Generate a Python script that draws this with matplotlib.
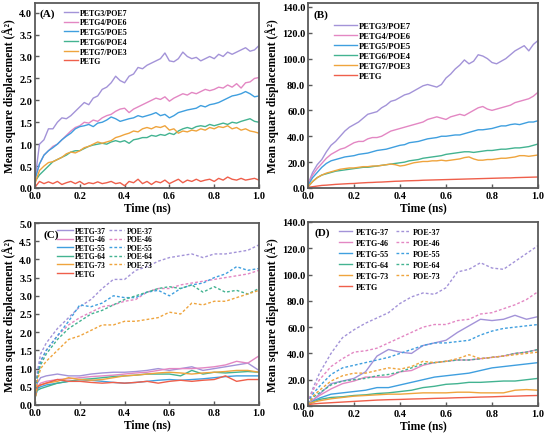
import numpy as np
import matplotlib
matplotlib.use("Agg")
import matplotlib.pyplot as plt
from matplotlib.ticker import MultipleLocator, FormatStrFormatter

plt.rcParams['font.family'] = ['Liberation Serif', 'DejaVu Serif']
plt.rcParams['font.weight'] = 'bold'

# ---- time grids ----
time_ab = [round(0.02 * i, 2) for i in range(51)]
time_cd = [0, 0.01, 0.025, 0.05, 0.1, 0.15, 0.2, 0.25, 0.3, 0.35, 0.4, 0.45,
           0.5, 0.55, 0.6, 0.65, 0.7, 0.75, 0.8, 0.85, 0.9, 0.95, 1.0]

# ---- panel A (PETG/POE blends, small scale) ----
labels_ab = ['PETG3/POE7', 'PETG4/POE6', 'PETG5/POE5', 'PETG6/POE4', 'PETG7/POE3', 'PETG']
a_37 = [0.2, 1.0, 1.1, 1.35, 1.35, 1.5, 1.6, 1.58, 1.65, 1.75, 1.85, 1.95, 1.9, 2.05, 2.1,
        2.25, 2.3, 2.4, 2.55, 2.45, 2.4, 2.55, 2.6, 2.75, 2.72, 2.8, 2.85, 2.9, 2.95, 3.08,
        2.9, 2.88, 2.95, 3.1, 3.0, 2.95, 2.98, 2.9, 2.95, 3.0, 2.95, 3.05, 3.0, 3.1, 3.05,
        3.1, 3.15, 3.2, 3.12, 3.15, 3.25]
a_46 = [0.2, 0.55, 0.75, 0.85, 0.95, 1.0, 1.1, 1.2, 1.3, 1.38, 1.42, 1.5, 1.48, 1.55, 1.52,
        1.6, 1.65, 1.68, 1.75, 1.8, 1.82, 1.72, 1.8, 1.85, 1.9, 1.95, 2.0, 2.05, 2.02, 2.08,
        1.98, 2.05, 2.1, 2.15, 2.12, 2.18, 2.15, 2.2, 2.25, 2.22, 2.25, 2.3, 2.28, 2.35, 2.3,
        2.38, 2.28, 2.4, 2.42, 2.5, 2.52]
a_55 = [0.2, 0.55, 0.75, 0.85, 0.92, 1.0, 1.1, 1.18, 1.25, 1.35, 1.4, 1.42, 1.45, 1.4, 1.48,
        1.5, 1.55, 1.62, 1.58, 1.52, 1.55, 1.58, 1.6, 1.65, 1.62, 1.65, 1.68, 1.72, 1.65, 1.68,
        1.6, 1.65, 1.72, 1.75, 1.78, 1.8, 1.82, 1.88, 1.85, 1.9, 1.92, 1.95, 2.0, 2.05, 2.1,
        2.12, 2.15, 2.2, 2.15, 2.08, 2.1]
a_64 = [0.15, 0.3, 0.4, 0.5, 0.6, 0.65, 0.7, 0.75, 0.82, 0.85, 0.85, 0.9, 0.95, 0.98, 1.0,
        1.02, 1.0, 1.05, 1.08, 1.05, 1.08, 1.02, 1.1, 1.12, 1.15, 1.15, 1.2, 1.18, 1.22, 1.2,
        1.25, 1.22, 1.3, 1.35, 1.38, 1.35, 1.4, 1.42, 1.4, 1.45, 1.42, 1.45, 1.48, 1.45, 1.5,
        1.48, 1.52, 1.55, 1.58, 1.52, 1.5]
a_73 = [0.1, 0.4, 0.5, 0.58, 0.6, 0.65, 0.7, 0.78, 0.82, 0.8, 0.85, 0.92, 0.95, 1.0, 1.05,
        1.02, 1.05, 1.08, 1.15, 1.18, 1.22, 1.25, 1.3, 1.28, 1.35, 1.38, 1.35, 1.4, 1.38, 1.42,
        1.32, 1.35, 1.25, 1.3, 1.28, 1.32, 1.3, 1.35, 1.32, 1.38, 1.35, 1.4, 1.38, 1.42, 1.35,
        1.38, 1.32, 1.35, 1.3, 1.28, 1.25]
a_petg = [0.02, 0.15, 0.1, 0.14, 0.1, 0.15, 0.08, 0.12, 0.15, 0.1, 0.15, 0.08, 0.12, 0.1, 0.14,
          0.1, 0.12, 0.15, 0.1, 0.12, 0.05, 0.15, 0.12, 0.2, 0.1, 0.15, 0.08, 0.15, 0.12, 0.18,
          0.1, 0.15, 0.2, 0.12, 0.18, 0.15, 0.2, 0.15, 0.18, 0.2, 0.15, 0.22, 0.18, 0.25, 0.2,
          0.18, 0.22, 0.18, 0.2, 0.22, 0.18]

# ---- panel B (PETG/POE blends, large scale) ----
b_37 = [3, 12, 18, 22, 28, 33, 36, 40, 44, 47, 49, 51, 54, 57, 58, 59, 62, 64, 67, 68, 70,
        72, 73, 75, 77, 79, 80, 79, 78, 80, 85, 88, 92, 95, 99, 96, 98, 103, 102, 100, 97,
        96, 98, 100, 103, 106, 108, 110, 106, 111, 114]
b_46 = [3, 10, 15, 19, 23, 26, 28, 30, 31, 33, 35, 36, 36, 38, 39, 39, 40, 42, 44, 45, 46,
        47, 48, 49, 50, 51, 53, 54, 55, 54, 53, 55, 56, 57, 56, 58, 60, 62, 63, 61, 60,
        61, 62, 63, 64, 66, 67, 68, 69, 71, 74]
b_55 = [2, 8, 12, 16, 19, 21, 22, 23, 24, 24.5, 25, 26, 26.5, 27, 28, 29, 29.5, 30, 31, 32,
        33, 33.5, 35, 35.5, 36, 37, 38, 38.5, 39, 40, 40, 40.5, 41, 41, 42, 43, 44, 45, 45,
        45.5, 46, 47, 48, 48, 49, 49.5, 49, 50, 51, 51, 52]
b_64 = [1, 5, 8, 10, 11, 12, 13, 13.5, 14, 14.5, 15, 15.5, 16, 16, 16.5, 17, 17.5, 18, 18.5,
        19, 19.5, 20, 21, 21.5, 22, 23, 23.5, 24, 24.5, 25, 26, 26.5, 27, 27.5, 28, 28, 27.5,
        28, 28.5, 29, 29, 29.5, 30, 30, 30.5, 31, 31, 31.5, 32, 33, 34]
b_73 = [1, 5, 8, 10, 11.5, 12.5, 13.5, 14.5, 15, 15.5, 15.5, 16, 16.5, 16.5, 17, 17, 17.5,
        18, 18.5, 18, 17, 17.5, 18.5, 19.5, 20, 20.5, 20.5, 21, 21, 21.5, 21, 21.5, 22, 22.5,
        23.5, 24, 22.5, 21.5, 21.5, 22, 22, 22.5, 23, 23, 23.5, 24, 25, 25, 24.5, 25, 25.5]
b_petg = [0.5, 1, 1.5, 2, 2.2, 2.5, 2.8, 3, 3.2, 3.4, 3.5, 3.8, 4, 4.2, 4.3, 4.5, 4.6, 4.8,
          5, 5.2, 5.3, 5.5, 5.6, 5.7, 5.8, 6, 6.1, 6.2, 6.3, 6.4, 6.5, 6.6, 6.7, 6.8, 6.9, 7,
          7.1, 7.2, 7.3, 7.4, 7.5, 7.6, 7.7, 7.8, 7.8, 8, 8.1, 8.2, 8.3, 8.4, 8.5]

# ---- panel C (components, small scale) ----
labels_petg = ['PETG-37', 'PETG-46', 'PETG-55', 'PETG-64', 'PETG-73', 'PETG']
labels_poe = ['POE-37', 'POE-46', 'POE-55', 'POE-64', 'POE-73']
c_poe37 = [0.2, 0.9, 1.4, 1.7, 2.1, 2.4, 2.7, 2.9, 3.2, 3.45, 3.45, 3.7, 3.8, 3.95, 4.05, 4.1,
           4.15, 4.05, 4.15, 4.15, 4.2, 4.25, 4.4]
c_poe46 = [0.2, 0.8, 1.2, 1.5, 1.9, 2.2, 2.4, 2.55, 2.7, 2.75, 2.85, 2.9, 3.1, 3.2, 3.2, 3.3,
           3.35, 3.4, 3.45, 3.5, 3.55, 3.6, 3.7]
c_poe55 = [0.2, 0.8, 1.2, 1.5, 1.9, 2.3, 2.75, 2.7, 2.8, 3.0, 2.95, 2.95, 3.1, 3.15, 3.0, 3.2,
           3.3, 3.35, 3.5, 3.6, 3.8, 3.7, 3.75]
c_poe64 = [0.2, 0.75, 1.1, 1.4, 1.8, 2.1, 2.3, 2.5, 2.6, 2.75, 2.9, 3.0, 3.1, 3.2, 3.25, 3.2,
           3.3, 3.1, 3.25, 3.1, 3.15, 3.05, 3.2]
c_poe73 = [0.1, 0.65, 1.0, 1.2, 1.5, 1.8, 1.9, 2.05, 2.2, 2.2, 2.3, 2.3, 2.35, 2.4, 2.55, 2.5,
           2.8, 2.75, 2.85, 2.85, 2.95, 3.05, 3.15]
c_petg37 = [0.2, 0.6, 0.75, 0.8, 0.85, 0.8, 0.8, 0.85, 0.88, 0.9, 0.9, 0.92, 0.95, 1.0, 0.95,
            1.0, 1.05, 0.95, 1.0, 1.05, 1.1, 1.15, 0.95]
c_petg46 = [0.2, 0.5, 0.6, 0.65, 0.7, 0.72, 0.75, 0.78, 0.8, 0.82, 0.85, 0.88, 0.9, 0.95, 1.0,
            1.0, 1.0, 1.02, 1.05, 1.1, 1.2, 1.15, 1.35]
c_petg55 = [0.2, 0.45, 0.5, 0.55, 0.6, 0.65, 0.65, 0.68, 0.65, 0.62, 0.6, 0.62, 0.65, 0.68,
            0.7, 0.68, 0.7, 0.72, 0.75, 0.78, 0.8, 0.8, 0.8]
c_petg64 = [0.2, 0.4, 0.45, 0.5, 0.6, 0.65, 0.7, 0.72, 0.75, 0.78, 0.8, 0.82, 0.85, 0.85, 0.85,
            0.8, 0.95, 0.85, 0.9, 0.88, 0.9, 0.92, 0.9]
c_petg73 = [0.2, 0.5, 0.55, 0.6, 0.65, 0.75, 0.7, 0.68, 0.7, 0.75, 0.8, 0.82, 0.85, 0.88, 0.9,
            0.88, 0.85, 0.88, 0.9, 0.92, 0.95, 0.95, 0.9]
c_petg = [0.2, 0.5, 0.55, 0.6, 0.7, 0.65, 0.65, 0.62, 0.6, 0.62, 0.6, 0.62, 0.65, 0.6, 0.65,
          0.68, 0.65, 0.68, 0.7, 0.8, 0.65, 0.7, 0.7]

# ---- panel D (components, large scale) ----
d_poe37 = [2, 8, 15, 25, 40, 52, 58, 63, 67, 71, 78, 83, 86, 85, 90, 102, 104, 109, 105, 104,
           110, 116, 122]
d_poe46 = [2, 7, 13, 20, 30, 36, 41, 42, 44, 48, 52, 56, 60, 62, 62, 65, 66, 70, 71, 74, 77,
           81, 87]
d_poe55 = [2, 6, 10, 15, 24, 29, 31, 33, 35, 37, 40, 43, 46, 48, 48, 49, 50, 54, 57, 59, 60,
           61, 62]
d_poe64 = [1, 4, 7, 10, 16, 19, 20, 21, 23, 24, 26, 29, 32, 33, 34, 35, 35, 36, 37, 38, 40,
           41, 43]
d_poe73 = [1, 4, 8, 12, 19, 23, 25, 25, 27, 29, 28, 30, 34, 33, 34, 36, 39, 36, 37, 38, 39,
           40, 41]
d_petg37 = [2, 3, 5, 9, 17, 19, 21, 26, 38, 43, 41, 40, 46, 48, 50, 56, 61, 66, 65, 66, 69,
            66, 68]
d_petg46 = [2, 3, 5, 8, 13, 17, 19, 22, 22, 22, 26, 27, 31, 33, 34, 35, 35, 36, 37, 38, 40,
            41, 43]
d_petg55 = [1, 2, 4, 6, 9, 10, 11, 12, 14, 14, 16, 18, 20, 22, 23, 24, 25, 27, 29, 30, 31,
            32, 33]
d_petg64 = [1, 2, 3, 5, 6.5, 7, 8, 8.5, 9.5, 10, 11, 12, 14, 15, 16.5, 17, 18, 18, 18.5, 19,
            19, 20, 21]
d_petg73 = [1, 2, 3, 4, 5.5, 6.5, 7.5, 8, 8.5, 9, 9, 9.5, 10, 10, 10, 10.5, 10.5, 10, 10, 10,
            12, 12.5, 12]
d_petg = [1, 1.3, 1.6, 2, 2.5, 3, 3.5, 4, 4.5, 4.8, 5, 5.3, 5.5, 5.8, 6, 6.3, 6.5, 6.8, 7,
          7.3, 7.5, 7.8, 8]

colors = ['#a393d8', '#e387c3', '#3f9fdf', '#43b391', '#efa43d', '#ef5f4b']
FRAME = '#5a5a5a'
W, H = 550, 439
LW = 1.0


def axes_px(l, r, t, b):
    return [l / W, 1 - b / H, (r - l) / W, (b - t) / H]


def style_axes(ax, ymax, ystep, tag, tag_xy, tick_fs=7.5):
    ax.set_xlim(0, 1.0)
    ax.set_ylim(0, ymax)
    ax.xaxis.set_major_locator(MultipleLocator(0.2))
    ax.yaxis.set_major_locator(MultipleLocator(ystep))
    ax.xaxis.set_major_formatter(FormatStrFormatter('%.1f'))
    ax.yaxis.set_major_formatter(FormatStrFormatter('%.1f'))
    ax.tick_params(direction='in', length=3, width=1, color=FRAME,
                   labelsize=tick_fs, pad=2)
    for lbl in ax.get_xticklabels() + ax.get_yticklabels():
        lbl.set_fontweight('bold')
    for sp in ax.spines.values():
        sp.set_color(FRAME)
        sp.set_linewidth(1.3)
    ax.set_xlabel('Time (ns)', fontsize=8.3, fontweight='bold', labelpad=1)
    ax.set_ylabel('Mean square displacement (Å²)', fontsize=8.3, fontweight='bold', labelpad=2)
    ax.text(tag_xy[0], tag_xy[1], tag, transform=ax.transAxes, fontsize=8,
            fontweight='bold', va='center', ha='left')


fig = plt.figure(figsize=(5.5, 4.39), dpi=100)

# (A)
ax = fig.add_axes(axes_px(35, 259, 4, 189))
for ys, lab, c in zip([a_37, a_46, a_55, a_64, a_73, a_petg], labels_ab, colors):
    ax.plot(time_ab, ys, color=c, lw=LW, label=lab)
style_axes(ax, 4.22, 0.5, '(A)', (0.022, 0.946))
ax.legend(loc='upper left', bbox_to_anchor=(0.13, 0.97), frameon=False,
          prop={'size': 5.7, 'weight': 'bold'}, handlelength=1.7, handletextpad=0.3,
          labelspacing=0.22, borderpad=0, borderaxespad=0)

# (B)
ax = fig.add_axes(axes_px(308, 538, 4, 189))
for ys, lab, c in zip([b_37, b_46, b_55, b_64, b_73, b_petg], labels_ab, colors):
    ax.plot(time_ab, ys, color=c, lw=LW, label=lab)
style_axes(ax, 143, 20, '(B)', (0.026, 0.94))
ax.legend(loc='upper left', bbox_to_anchor=(0.115, 0.9), frameon=False,
          prop={'size': 6.2, 'weight': 'bold'}, handlelength=2.6, handletextpad=0.2,
          labelspacing=0.25, borderpad=0, borderaxespad=0)

# (C)
ax = fig.add_axes(axes_px(35, 259, 224, 406))
for ys, lab, c in zip([c_petg37, c_petg46, c_petg55, c_petg64, c_petg73, c_petg],
                      labels_petg, colors):
    ax.plot(time_cd, ys, color=c, lw=LW, label=lab)
for ys, lab, c in zip([c_poe37, c_poe46, c_poe55, c_poe64, c_poe73], labels_poe, colors):
    ax.plot(time_cd, ys, color=c, lw=LW, ls=(0, (2, 1.5)), label=lab)
style_axes(ax, 5.0, 0.5, '(C)', (0.036, 0.94))
ax.legend(loc='upper left', bbox_to_anchor=(0.1, 0.98), frameon=False, ncol=2,
          prop={'size': 5.5, 'weight': 'bold'}, handlelength=2.0, handletextpad=0.3,
          labelspacing=0.08, columnspacing=0.4, borderpad=0, borderaxespad=0)

# (D)
ax = fig.add_axes(axes_px(308, 538, 223, 407))
for ys, lab, c in zip([d_petg37, d_petg46, d_petg55, d_petg64, d_petg73, d_petg],
                      labels_petg, colors):
    ax.plot(time_cd, ys, color=c, lw=LW, label=lab)
for ys, lab, c in zip([d_poe37, d_poe46, d_poe55, d_poe64, d_poe73], labels_poe, colors):
    ax.plot(time_cd, ys, color=c, lw=LW, ls=(0, (2, 1.5)), label=lab)
style_axes(ax, 140, 20, '(D)', (0.03, 0.946))
ax.legend(loc='upper left', bbox_to_anchor=(0.135, 0.968), frameon=False, ncol=2,
          prop={'size': 5.9, 'weight': 'bold'}, handlelength=1.6, handletextpad=0.4,
          labelspacing=0.36, columnspacing=0.9, borderpad=0, borderaxespad=0)

fig.savefig('out.png', dpi=100)
